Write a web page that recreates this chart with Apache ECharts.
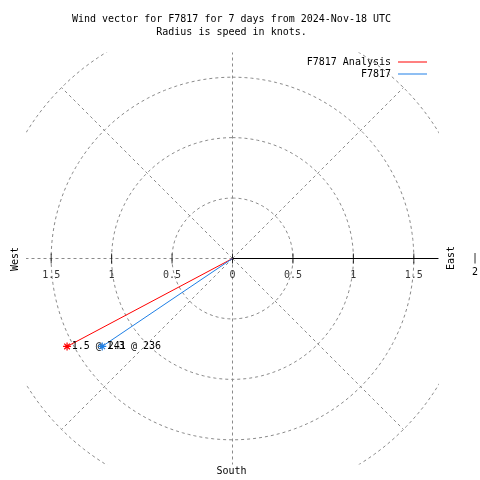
<!DOCTYPE html>
<html>
<head>
<meta charset="utf-8">
<script src="https://cdn.jsdelivr.net/npm/echarts@6/dist/echarts.min.js"></script>
<style>html,body{margin:0;padding:0;background:#fff}#c{width:480px;height:480px}</style>
</head>
<body>
<div id="c"></div>
<script>
// ---- data ----
var seriesNames = ['F7817 Analysis', 'F7817'];
var seriesColors = ['#ff0000', '#1e7fe6'];
var speeds = [1.55, 1.30];          // knots
var directions = [242, 236];        // degrees, compass bearing of the vector
var pointLabels = ['1.5 @ 241', '1.3 @ 236'];
var ringRadii = [0.5, 1, 1.5, 2];
var spokeAngles = [0, 45, 90, 135, 180, 225, 270, 315];
var tickValues = [-1.5, -1, -0.5, 0, 0.5, 1, 1.5];
var tickLabels = ['1.5', '1', '0.5', '0', '0.5', '1', '1.5'];
var axisMax = 1.7;

var FONT = 'DejaVu Sans Mono';
var GRID_COLOR = '#8a8a8a';
var starPath = 'path://M0,5L10,5M5,0L5,10M1.5,1.5L8.5,8.5M1.5,8.5L8.5,1.5';

function toXY(r, deg) {
  var a = deg * Math.PI / 180;
  return [r * Math.sin(a), r * Math.cos(a)];
}

var series = [];
// rings
ringRadii.forEach(function (r) {
  var pts = [];
  for (var d = 0; d <= 360; d += 2) pts.push(toXY(r, d));
  series.push({
    type: 'line', data: pts, symbol: 'none', silent: true, z: 1,
    lineStyle: { color: GRID_COLOR, width: 1, type: [3, 3] }
  });
});
// spokes
spokeAngles.forEach(function (d) {
  series.push({
    type: 'line', data: [[0, 0], toXY(2, d)], symbol: 'none', silent: true, z: 1,
    lineStyle: { color: GRID_COLOR, width: 1, type: [3, 3] }
  });
});
// east solid axis
series.push({
  type: 'line', data: [[0, 0], [axisMax, 0]], symbol: 'none', silent: true, z: 2,
  lineStyle: { color: '#000', width: 1 }
});
// ticks with labels
series.push({
  type: 'scatter',
  data: tickValues.map(function (v, i) {
    return { value: [v, 0], label: { formatter: tickLabels[i] } };
  }),
  symbol: 'rect', symbolSize: [1, 10], silent: true, z: 2,
  itemStyle: { color: '#000' },
  label: {
    show: true, position: 'bottom', distance: 7,
    fontFamily: FONT, fontSize: 10, color: '#000'
  }
});
// vectors
speeds.forEach(function (s, i) {
  series.push({
    name: seriesNames[i], type: 'line', z: 5 + i,
    lineStyle: { color: seriesColors[i], width: 1 },
    itemStyle: { color: 'rgba(0,0,0,0)', borderColor: seriesColors[i], borderWidth: 1.2 },
    data: [
      { value: [0, 0], symbol: 'none' },
      {
        value: toXY(s, directions[i]), symbol: starPath, symbolSize: 8,
        label: {
          show: true, position: 'right', distance: 0, formatter: pointLabels[i],
          fontFamily: FONT, fontSize: 10, color: '#000'
        }
      }
    ]
  });
});

var chart = echarts.init(document.getElementById('c'));
chart.setOption({
  animation: false,
  backgroundColor: '#fff',
  title: {
    text: 'Wind vector for F7817 for 7 days from 2024-Nov-18 UTC\nRadius is speed in knots.',
    left: 231.5, top: 13, textAlign: 'center', padding: 0,
    textStyle: { fontFamily: FONT, fontSize: 10, fontWeight: 'normal', color: '#000', lineHeight: 13 }
  },
  legend: [0, 1].map(function (i) {
    return {
      data: [seriesNames[i]], right: 53, top: 57 + i * 12, align: 'right', padding: 0,
      icon: 'rect', itemWidth: 29, itemHeight: 1, itemGap: 7,
      itemStyle: { color: seriesColors[i], borderWidth: 0 },
      textStyle: { fontFamily: FONT, fontSize: 10, color: '#000', padding: [0, 2, 0, 0] }
    };
  }),
  grid: { left: 27, top: 53, width: 411, height: 411 },
  xAxis: { type: 'value', min: -axisMax, max: axisMax, show: false },
  yAxis: { type: 'value', min: -axisMax, max: axisMax, show: false },
  graphic: [
    { type: 'text', x: 15, y: 259, rotation: Math.PI / 2,
      style: { text: 'West', fontFamily: FONT, fontSize: 10, fill: '#000', align: 'center', verticalAlign: 'middle' } },
    { type: 'text', x: 451, y: 258, rotation: Math.PI / 2,
      style: { text: 'East', fontFamily: FONT, fontSize: 10, fill: '#000', align: 'center', verticalAlign: 'middle' } },
    { type: 'text', x: 475, y: 258,
      style: { text: '|', fontFamily: FONT, fontSize: 10, fill: '#000', align: 'center', verticalAlign: 'middle' } },
    { type: 'text', x: 475, y: 272,
      style: { text: '2', fontFamily: FONT, fontSize: 10, fill: '#000', align: 'center', verticalAlign: 'middle' } },
    { type: 'text', x: 231.5, y: 471,
      style: { text: 'South', fontFamily: FONT, fontSize: 10, fill: '#000', align: 'center', verticalAlign: 'middle' } }
  ],
  series: series
});
</script>
</body>
</html>
